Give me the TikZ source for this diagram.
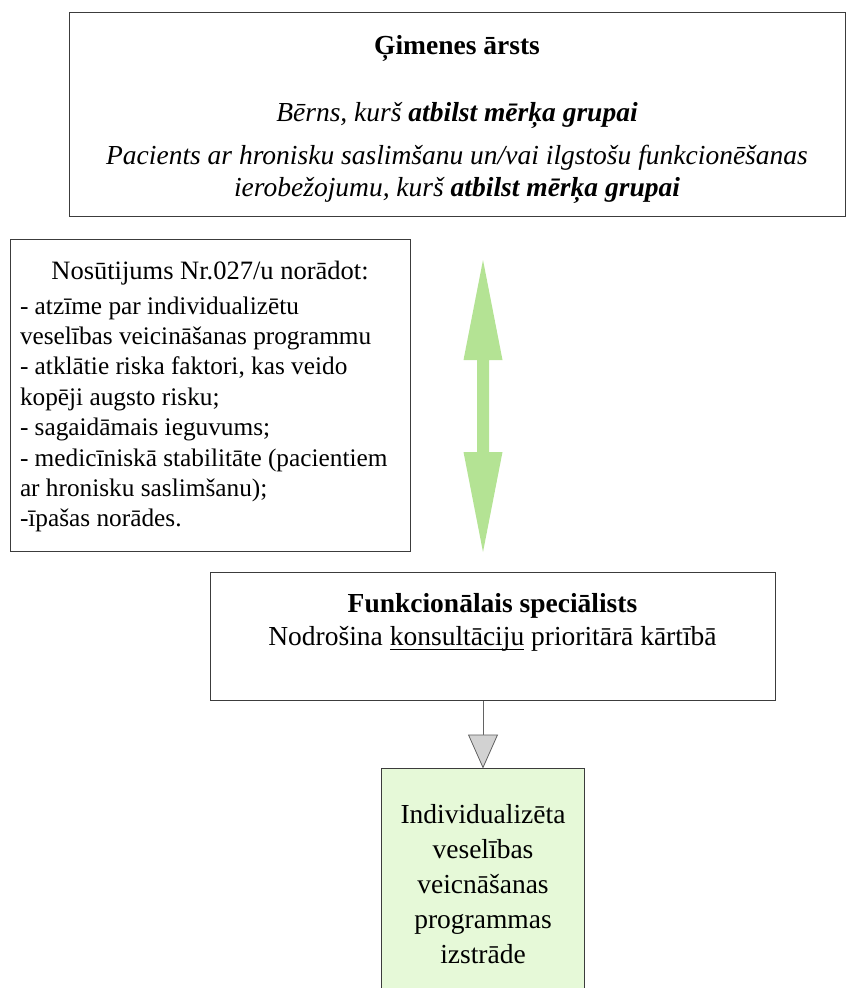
\documentclass[tikz,border=0pt]{standalone}
\usepackage{fontspec}
\setmainfont{Liberation Serif}
\usetikzlibrary{arrows.meta}
\definecolor{arrowgreen}{RGB}{180,227,148}
\definecolor{boxgreen}{RGB}{230,249,216}
\definecolor{edgegray}{RGB}{60,60,60}
\definecolor{tipgray}{RGB}{210,210,210}
% underline set close to the baseline
\newsavebox\ulbox
\newcommand\ulword[1]{\sbox\ulbox{#1}\rlap{\rule[-5pt]{\wd\ulbox}{1.1pt}}\usebox\ulbox}
\begin{document}
\begin{tikzpicture}[x=1pt,y=-1pt,
  frame/.style={draw=edgegray, line width=1pt, inner sep=0pt, outer sep=0pt, anchor=north west},
  txt/.style={inner sep=0pt, outer sep=0pt, anchor=base, font=\fontsize{27.5}{31.6}\selectfont},
  listtxt/.style={inner sep=0pt, outer sep=0pt, anchor=north west, align=left,
    font=\fontsize{25.3}{30.4}\selectfont}]
\useasboundingbox (0,0) rectangle (846,988);

% boxes
\node[frame, minimum width=776pt, minimum height=204pt] (gp) at (69.5,12.5) {};
\node[frame, minimum width=400pt, minimum height=312pt] (ref) at (10.5,239.5) {};
\node[frame, minimum width=565pt, minimum height=128pt] (fs) at (210.5,572.5) {};
\node[frame, fill=boxgreen, minimum width=203pt, minimum height=240pt] (plan) at (381.5,768.5) {};

% family doctor
\node[txt] (gpT) at (457,54) {\bfseries Ģimenes ārsts};
\node[txt] (gpA) at (457,121) {\itshape Bērns, kurš \textbf{atbilst mērķa grupai}};
\node[txt] (gpB) at (457,164) {\itshape Pacients ar hronisku saslimšanu un/vai ilgstošu funkcionēšanas};
\node[txt] (gpC) at (457,196) {\itshape ierobežojumu, kurš \textbf{atbilst mērķa grupai}};

% referral
\node[txt, font=\fontsize{26.5}{30}\selectfont] (refT) at (210,279) {Nosūtijums Nr.027/u norādot:};
\node[listtxt] (refL) at (20,296.5) {- atzīme par individualizētu\\
veselības veicināšanas programmu\\
- atklātie riska faktori, kas veido\\
kopēji augsto risku;\\
- sagaidāmais ieguvums;\\
- medicīniskā stabilitāte (pacientiem\\
ar hronisku saslimšanu);\\
-īpašas norādes.};

% functional specialist
\node[txt] (fsT) at (492.5,612) {\bfseries Funkcionālais speciālists};
\node[txt] (fsA) at (492.5,645) {Nodrošina \ulword{konsultāciju} prioritārā kārtībā};

% programme
\node[txt, align=center, anchor=north, font=\fontsize{27.5}{35.2}\selectfont] (planT) at (483,804)
  {Individualizēta\\veselības\\veicnāšanas\\programmas\\izstrāde};

% two-way green arrow
\fill[arrowgreen] (483,260) -- (502.5,360) -- (489,360) -- (489,452) -- (502.5,452)
  -- (483,552) -- (463.5,452) -- (477,452) -- (477,360) -- (463.5,360) -- cycle;

% specialist to programme
\draw[edgegray!80, line width=0.8pt,
  -{Triangle[length=34pt, width=30pt, fill=tipgray, line width=0.8pt]}]
  (plan.north |- fs.south) -- (plan.north);
\end{tikzpicture}
\end{document}
